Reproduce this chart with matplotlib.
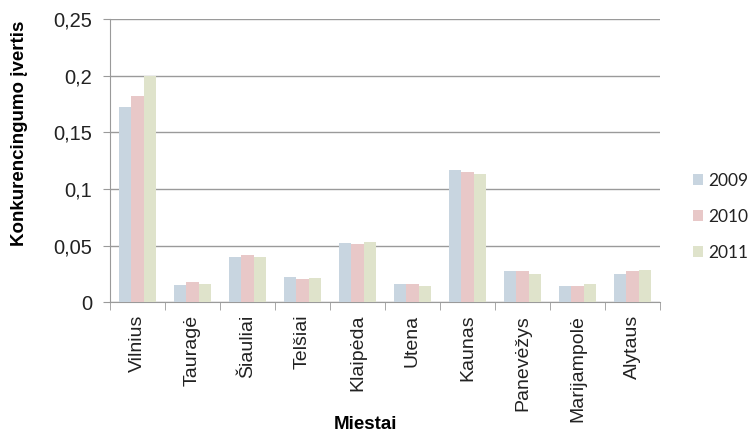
import numpy as np
import matplotlib.pyplot as plt
from matplotlib.ticker import FuncFormatter, FixedLocator

# Duomenys
miestai = ["Vilnius", "Tauragė", "Šiauliai", "Telšiai", "Klaipėda",
           "Utena", "Kaunas", "Panevėžys", "Marijampolė", "Alytaus"]
metai = ["2009", "2010", "2011"]
v2009 = [0.172, 0.0153, 0.0397, 0.0223, 0.0523, 0.0164, 0.1167, 0.0276, 0.0146, 0.0250]
v2010 = [0.1817, 0.0182, 0.0414, 0.0205, 0.0514, 0.0164, 0.1152, 0.0276, 0.0146, 0.0276]
v2011 = [0.200, 0.0164, 0.0397, 0.0214, 0.0532, 0.0146, 0.1129, 0.0250, 0.0164, 0.0285]
spalvos = ["#C8D5E0", "#E8C8C8", "#DFE3CB"]

plt.rcParams['font.family'] = ['Liberation Sans', 'DejaVu Sans']

fig = plt.figure(figsize=(7.51, 4.36), dpi=100)
ax = fig.add_axes([0.1465, 0.3067, 0.7323, 0.6497])

x = np.arange(len(miestai))
w = 0.222
for i, (vals, c) in enumerate(zip([v2009, v2010, v2011], spalvos)):
    ax.bar(x + (i - 1) * w, vals, width=w, color=c, label=metai[i], zorder=3)

ax.set_xlim(-0.5, len(miestai) - 0.5)
ax.set_ylim(0, 0.25)
ax.set_yticks(np.arange(0, 0.251, 0.05))
ax.yaxis.set_major_formatter(FuncFormatter(lambda v, p: f"{round(v, 2):g}".replace(".", ",")))
ax.grid(axis="y", color="#9a9a9a", linewidth=1, zorder=0)

ax.set_xticks(x)
ax.set_xticklabels(miestai, rotation=90, fontsize=14, color="#222222")
ax.xaxis.set_minor_locator(FixedLocator(np.arange(-0.5, len(miestai), 1.0)))
ax.tick_params(axis="x", which="major", length=0, pad=9)
ax.tick_params(axis="x", which="minor", length=6, color="#9a9a9a", direction="out")
ax.tick_params(axis="y", length=5, color="#9a9a9a", labelsize=14.5, labelcolor="#222222", pad=8)

for s in ["top", "right"]:
    ax.spines[s].set_visible(False)
ax.spines["left"].set_color("#9a9a9a")
ax.spines["bottom"].set_color("#9a9a9a")

ax.set_ylabel("Konkurencingumo įvertis", fontsize=13.5, fontweight="bold")
ax.yaxis.set_label_coords(-0.149, 0.595)
ax.set_xlabel("Miestai", fontsize=13.5, fontweight="bold")
ax.xaxis.set_label_coords(0.465, -0.4)

fig.legend(loc="center left", bbox_to_anchor=(0.9228, 0.503), frameon=False,
           prop={"family": "Lato", "size": 12.5}, labelcolor="#222222",
           borderpad=0, borderaxespad=0,
           handlelength=0.55, handleheight=0.55, handletextpad=0.35, labelspacing=1.15)

plt.savefig("out.png", dpi=100)
plt.close()
